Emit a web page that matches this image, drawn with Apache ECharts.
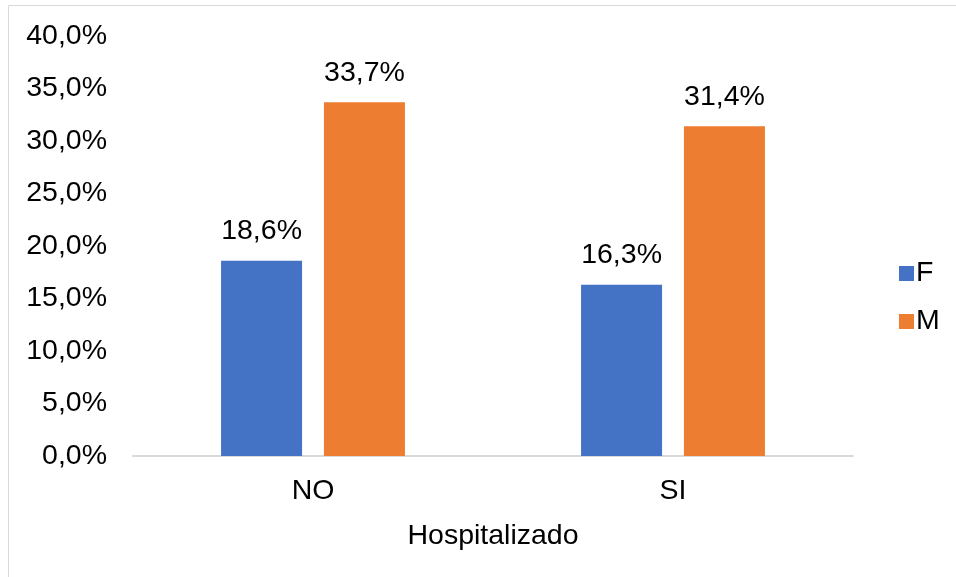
<!DOCTYPE html>
<html>
<head>
<meta charset="utf-8">
<style>
  html, body { margin: 0; padding: 0; background: #fff; }
  #chart { width: 956px; height: 577px; }
</style>
<script src="https://cdn.jsdelivr.net/npm/echarts@6/dist/echarts.min.js"></script>
</head>
<body>
<div id="chart"></div>
<script>
const categories = ['NO', 'SI'];
const seriesNames = ['F', 'M'];
const valuesF = [18.6, 16.3];
const valuesM = [33.7, 31.4];
const axisName = 'Hospitalizado';
const colors = ['#4472C4', '#ED7D31'];

const fontFamily = '"Liberation Sans", Arial, sans-serif';
const fontSize = 28.5;
const fmt = v => v.toFixed(1).replace('.', ',') + '%';

const chart = echarts.init(document.getElementById('chart'), null, { renderer: 'canvas' });

const barLabel = {
  show: true,
  position: 'top',
  distance: 15,
  color: '#000',
  fontSize: fontSize,
  fontFamily: fontFamily,
  formatter: p => fmt(p.value)
};

chart.setOption({
  animation: false,
  backgroundColor: '#fff',
  color: colors,
  graphic: [{
    type: 'rect',
    shape: { x: 8.5, y: 5.5, width: 1000, height: 1000 },
    style: { fill: 'none', stroke: '#D9D9D9', lineWidth: 1 },
    silent: true
  }],
  grid: { left: 133, right: 103, top: 36, bottom: 121, containLabel: false },
  legend: {
    orient: 'vertical',
    left: 894,
    top: 254,
    itemWidth: 15,
    itemHeight: 15,
    itemGap: 19,
    icon: 'rect',
    textStyle: { color: '#000', fontSize: fontSize, fontFamily: fontFamily, padding: [0, 0, 0, -3] },
    data: seriesNames
  },
  xAxis: {
    type: 'category',
    data: categories,
    name: axisName,
    nameLocation: 'middle',
    nameGap: 66,
    nameTextStyle: { color: '#000', fontSize: fontSize, fontFamily: fontFamily },
    axisLine: { lineStyle: { color: '#D9D9D9', width: 2 } },
    axisTick: { show: false },
    axisLabel: { color: '#000', fontSize: fontSize, fontFamily: fontFamily, margin: 21 }
  },
  yAxis: {
    type: 'value',
    min: 0,
    max: 40,
    interval: 5,
    axisLine: { show: false },
    axisTick: { show: false },
    splitLine: { show: false },
    axisLabel: {
      color: '#000',
      fontSize: fontSize,
      fontFamily: fontFamily,
      margin: 26,
      formatter: v => fmt(v)
    }
  },
  series: [
    { name: seriesNames[0], type: 'bar', data: valuesF, barWidth: 81, barGap: '27%', label: barLabel },
    { name: seriesNames[1], type: 'bar', data: valuesM, barWidth: 81, barGap: '27%', label: barLabel }
  ]
});
</script>
</body>
</html>
